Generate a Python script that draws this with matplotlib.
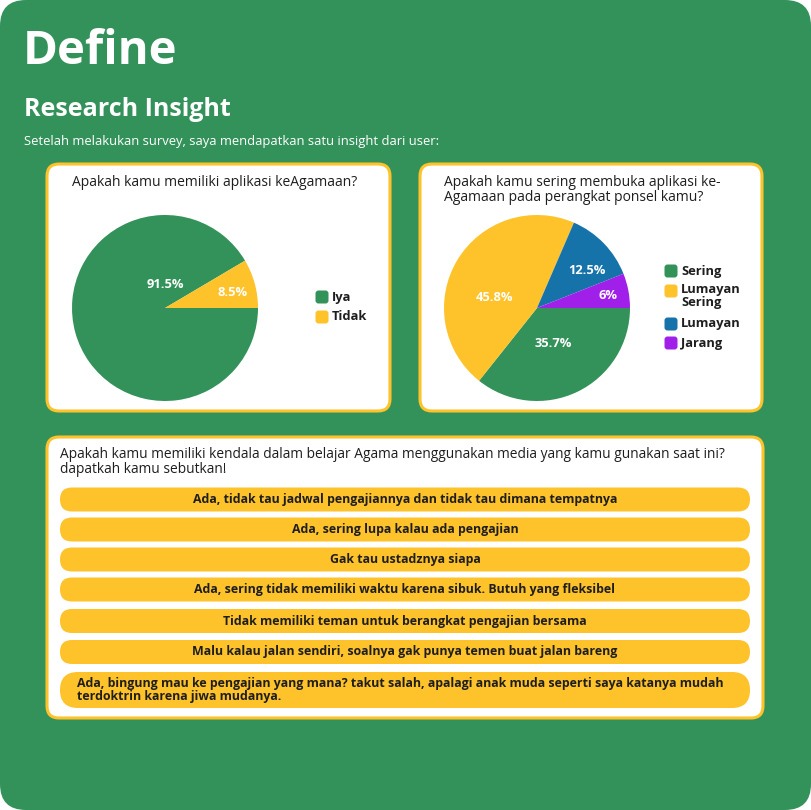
import matplotlib.pyplot as plt
from matplotlib.patches import FancyBboxPatch

plt.rcParams['font.family'] = ['Open Sans', 'DejaVu Sans']

green = '#33925A'
yellow = '#FEC22A'
blue = '#1673A9'
purple = '#A020EA'
dark = '#1E1E1E'

# data
q1_title = 'Apakah kamu memiliki aplikasi keAgamaan?'
q1_labels = ['Iya', 'Tidak']
q1_values = [91.5, 8.5]
q1_colors = [green, yellow]

q2_title = 'Apakah kamu sering membuka aplikasi ke-\nAgamaan pada perangkat ponsel kamu?'
q2_labels = ['Sering', 'Lumayan\nSering', 'Lumayan', 'Jarang']
q2_values = [35.7, 45.8, 12.5, 6.0]
q2_pct = ['35.7%', '45.8%', '12.5%', '6%']
q2_colors = [green, yellow, blue, purple]

q3_title = ('Apakah kamu memiliki kendala dalam belajar Agama menggunakan media yang kamu gunakan saat ini?\n'
            'dapatkah kamu sebutkan!')
answers = [
    'Ada, tidak tau jadwal pengajiannya dan tidak tau dimana tempatnya',
    'Ada, sering lupa kalau ada pengajian',
    'Gak tau ustadznya siapa',
    'Ada, sering tidak memiliki waktu karena sibuk. Butuh yang fleksibel',
    'Tidak memiliki teman untuk berangkat pengajian bersama',
    'Malu kalau jalan sendiri, soalnya gak punya temen buat jalan bareng',
    'Ada, bingung mau ke pengajian yang mana? takut salah, apalagi anak muda seperti saya katanya mudah\n'
    'terdoktrin karena jiwa mudanya.',
]

W, H = 811, 810
fig = plt.figure(figsize=(W / 100, H / 100), dpi=100)
fig.patch.set_facecolor('white')

bg = fig.add_axes([0, 0, 1, 1])
bg.set_xlim(0, W)
bg.set_ylim(H, 0)
bg.axis('off')

bg.add_patch(FancyBboxPatch((0, 0), W, H, boxstyle='round,pad=0,rounding_size=26',
                            fc=green, ec='none'))

bg.text(23, 51, 'Define', color='white', fontsize=34, fontweight='bold', va='center', ha='left')
bg.text(24, 110, 'Research Insight', color='white', fontsize=18, fontweight='bold', va='center', ha='left')
bg.text(24, 142, 'Setelah melakukan survey, saya mendapatkan satu insight dari user:',
        color='white', fontsize=9.4, va='center', ha='left')


def card(x0, y0, x1, y1):
    bg.add_patch(FancyBboxPatch((x0, y0), x1 - x0, y1 - y0, boxstyle='round,pad=0,rounding_size=12',
                                fc='white', ec=yellow, lw=2.2))


card(47, 164, 390, 411)
card(420, 164, 762, 411)
card(47, 437, 763, 718)


def pie_axes(cx, cy, r):
    ax = fig.add_axes([(cx - r) / W, 1 - (cy + r) / H, 2 * r / W, 2 * r / H])
    ax.axis('off')
    return ax


# pie 1
bg.text(72, 183, q1_title, color=dark, fontsize=10, va='center', ha='left')
ax1 = pie_axes(165, 308, 93)
ax1.pie(q1_values, colors=q1_colors, startangle=0, counterclock=False, radius=1,
        wedgeprops=dict(linewidth=0))
ax1.set_xlim(-1, 1)
ax1.set_ylim(-1, 1)
q1_pos = [(0.0, 0.25), (0.73, 0.17)]
for v, (px, py) in zip(q1_values, q1_pos):
    ax1.text(px, py, f'{v}%', color='white', fontsize=9.3, fontweight='bold', ha='center', va='center')

# pie 2
bg.text(444, 190, q2_title, color=dark, fontsize=10, va='center', ha='left', linespacing=1.05)
ax2 = pie_axes(537, 308, 93)
ax2.pie(q2_values, colors=q2_colors, startangle=0, counterclock=False, radius=1,
        wedgeprops=dict(linewidth=0))
ax2.set_xlim(-1, 1)
ax2.set_ylim(-1, 1)
q2_pos = [(0.17, -0.38), (-0.46, 0.11), (0.54, 0.40), (0.76, 0.13)]
for t, (px, py) in zip(q2_pct, q2_pos):
    ax2.text(px, py, t, color='white', fontsize=9.3, fontweight='bold', ha='center', va='center')


def legend(x, ys, labels, colors):
    for y, lab, c in zip(ys, labels, colors):
        bg.add_patch(FancyBboxPatch((x - 6.5, y - 6.5), 13, 13, boxstyle='round,pad=0,rounding_size=3',
                                    fc=c, ec='none'))
        if '\n' in lab:
            bg.text(x + 10, y - 8, lab, color=dark, fontsize=9.3, fontweight='bold', va='top', ha='left',
                    linespacing=1.0)
        else:
            bg.text(x + 10, y, lab, color=dark, fontsize=9.3, fontweight='bold', va='center', ha='left')


legend(322, [297, 317], q1_labels, q1_colors)
legend(671, [271, 291, 324, 343], q2_labels, q2_colors)

# question 3
bg.text(60, 462, q3_title, color=dark, fontsize=9.9, va='center', ha='left', linespacing=1.0)
row_y = [499.5, 529.5, 559.5, 589.5, 621, 652, 690]
row_h = [24, 24, 24, 24, 24, 24, 36]
for ans, yc, h in zip(answers, row_y, row_h):
    bg.add_patch(FancyBboxPatch((60, yc - h / 2), 690, h, boxstyle=f'round,pad=0,rounding_size={h / 2}',
                                fc=yellow, ec='none'))
    if '\n' in ans:
        bg.text(77, yc, ans, color=dark, fontsize=8.9, fontweight='bold', va='center', ha='left',
                linespacing=1.0)
    else:
        bg.text(405, yc, ans, color=dark, fontsize=8.9, fontweight='bold', va='center', ha='center')

fig.savefig('out.png', dpi=100, facecolor='white')
